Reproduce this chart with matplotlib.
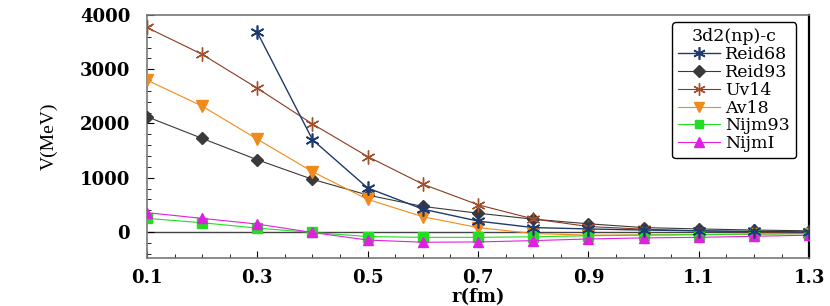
import matplotlib
matplotlib.use("Agg")
import matplotlib.pyplot as plt
from matplotlib.ticker import MultipleLocator, FixedLocator

r = [0.1, 0.2, 0.3, 0.4, 0.5, 0.6, 0.7, 0.8, 0.9, 1.0, 1.1, 1.2, 1.3]
r_reid68 = [0.3, 0.4, 0.5, 0.6, 0.7, 0.8, 0.9, 1.0, 1.1, 1.2, 1.3]
reid68 = [3680, 1700, 810, 420, 200, 80, 55, 35, 20, 10, 0]
reid93 = [2125, 1725, 1330, 970, 680, 470, 345, 235, 150, 80, 55, 35, 20]
uv14 = [3770, 3275, 2650, 1990, 1390, 880, 500, 240, 100, 50, 20, 0, -30]
av18 = [2800, 2320, 1710, 1110, 600, 280, 80, -30, -60, -55, -50, -40, -30]
nijm93 = [250, 170, 70, -10, -85, -100, -100, -90, -70, -60, -50, -40, -30]
nijm1 = [355, 250, 145, -10, -150, -190, -185, -160, -130, -110, -100, -80, -60]

xticks = [0.1, 0.3, 0.5, 0.7, 0.9, 1.1, 1.3]
yticks = [0, 1000, 2000, 3000, 4000]

plt.rcParams['font.family'] = ['DejaVu Serif']

fig = plt.figure(figsize=(8.3, 3.06), dpi=100)
ax = fig.add_axes([0.177, 0.157, 0.798, 0.794])

ax.axhline(0, color='#444444', lw=1.0, zorder=1)

ax.plot(r_reid68, reid68, color='#1f3a6e', lw=1.0, marker=(6, 2, 0), ms=10, mew=1.2, label='Reid68', zorder=5)
ax.plot(r, reid93, color='#3a3a3a', lw=0.8, marker='D', ms=6.5, label='Reid93', zorder=4)
ax.plot(r, uv14, color='#8b3a1e', lw=0.8, marker=(6, 2, 0), ms=10, mew=1.0, markeredgecolor='#a0502d', label='Uv14', zorder=4)
ax.plot(r, av18, color='#f08a1a', lw=0.8, marker='v', ms=8.5, label='Av18', zorder=4)
ax.plot(r, nijm93, color='#22dd22', lw=0.8, marker='s', ms=6.5, label='Nijm93', zorder=4)
ax.plot(r, nijm1, color='#e020e0', lw=0.8, marker='^', ms=7.5, label='NijmI', zorder=4)

ax.set_xlim(0.1, 1.3)
ax.set_ylim(-480, 4000)
ax.xaxis.set_major_locator(FixedLocator(xticks))
ax.yaxis.set_major_locator(FixedLocator(yticks))
ax.xaxis.set_minor_locator(MultipleLocator(0.05))
ax.yaxis.set_minor_locator(MultipleLocator(200))
ax.tick_params(which='both', direction='in', top=False, right=False)
ax.tick_params(which='major', length=5, labelsize=13)
ax.tick_params(axis='y', which='major', pad=12)
ax.tick_params(axis='x', which='major', pad=8)
ax.tick_params(which='minor', length=3)
for lab in ax.get_xticklabels() + ax.get_yticklabels():
    lab.set_fontweight('bold')

for s in ['top', 'left', 'bottom']:
    ax.spines[s].set_color('#777777')
    ax.spines[s].set_linewidth(1.2)
ax.spines['right'].set_color('black')
ax.spines['right'].set_linewidth(1.6)

ax.set_xlabel('r(fm)', fontsize=13, fontweight='bold', labelpad=1)
ax.set_ylabel('V(MeV)', fontsize=14, family=['Liberation Serif'], labelpad=16)

leg = ax.legend(title='3d2(np)-c', loc='upper right', bbox_to_anchor=(0.98, 0.971),
                prop={'family': 'DejaVu Serif', 'size': 12.5}, title_fontsize=12.5,
                handlelength=2.4, handletextpad=0.3,
                labelspacing=0.05, borderpad=0.35, borderaxespad=0, fancybox=True, framealpha=1,
                edgecolor='black', markerscale=0.9)
leg.get_frame().set_linewidth(1.0)

fig.savefig('out.png', dpi=100)
